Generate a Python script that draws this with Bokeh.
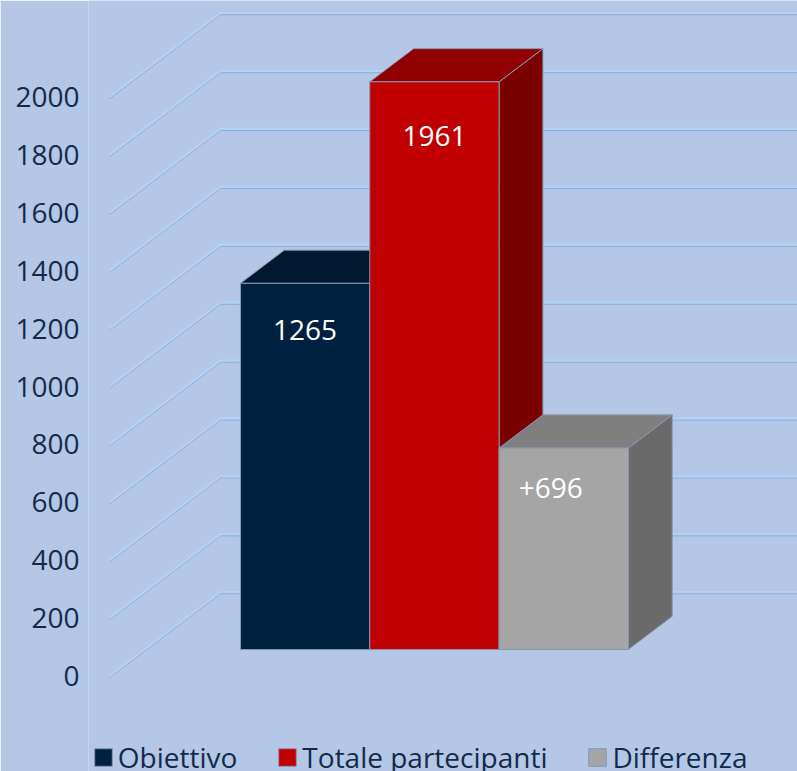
from bokeh.plotting import figure
from bokeh.models import Range1d, FixedTicker, Legend, LegendItem, ColumnDataSource
from bokeh.core.properties import value
from bokeh.embed import file_html
from bokeh.resources import INLINE

# ---------------- data ----------------
categories = ["Obiettivo", "Totale partecipanti", "Differenza"]
values = [1265, 1961, 696]
bar_labels = ["1265", "1961", "+696"]
tick_values = [0, 200, 400, 600, 800, 1000, 1200, 1400, 1600, 1800, 2000]

# ---------------- style ----------------
front_colors = ["#00203f", "#c00000", "#a5a5a5"]
top_colors = ["#001830", "#900000", "#7f7f7f"]
side_colors = ["#001530", "#7a0000", "#6a6a6a"]
label_dy_px = [47, 54, 40]
label_dx_px = [0, 0, -13]
BG = "#b4c7e7"
TXT = "#132b4b"
FONT = "Open Sans"

# projection (pixels per data unit)
PXX = 129.3      # px per category unit
PXY = 0.2895     # px per value unit
DX = 111 / PXX   # depth vector (x), data units per unit depth
DY = 84 / PXY    # depth vector (y), data units per unit depth
D0, D1 = 0.315, 0.71   # bar front/back depth
WALL_X = -0.7425       # left wall x at depth 0

W, H = 797, 771
LEFT = 88
p = figure(width=W, height=H, output_backend="svg", toolbar_location=None,
           x_axis_location=None,
           x_range=Range1d((LEFT - 205) / PXX, (W - 205) / PXX),
           y_range=Range1d((675.5 - H) / PXY, 675.5 / PXY),
           min_border_left=LEFT, min_border_right=0, min_border_top=0, min_border_bottom=0)
p.background_fill_color = BG
p.border_fill_color = BG
p.outline_line_color = None
p.xgrid.visible = False
p.ygrid.visible = False

ax = p.yaxis[0]
ax.ticker = FixedTicker(ticks=tick_values)
ax.axis_line_color = None
ax.major_tick_line_color = None
ax.minor_tick_line_color = None
ax.major_tick_out = 0
ax.major_tick_in = 0
ax.major_label_standoff = 9
ax.major_label_text_font = FONT
ax.major_label_text_font_size = "28px"
ax.major_label_text_color = TXT

# ---------------- gridlines (side wall + back wall) ----------------
x_end = 4.6
for t in tick_values:
    xs = [WALL_X, WALL_X + DX, x_end]
    ys = [t, t + DY, t + DY]
    p.line(xs, [y - 1.8 / PXY for y in ys], line_color="#92abd4", line_width=1)
    p.line(xs, ys, line_color="#b0d3fa", line_width=2)

# ---------------- bars ----------------
edge = "#8797b3"
front_renderers = []
for i, v in enumerate(values):
    xl = i + D0 * DX
    xr = i + 1 + D0 * DX
    yb = D0 * DY
    yt = v + D0 * DY
    ddx = (D1 - D0) * DX
    ddy = (D1 - D0) * DY
    # side face
    p.patch([xr, xr + ddx, xr + ddx, xr],
            [yb, yb + ddy, yt + ddy, yt],
            fill_color=side_colors[i], line_color=edge, line_width=1)
    # top face
    p.patch([xl, xr, xr + ddx, xl + ddx],
            [yt, yt, yt + ddy, yt + ddy],
            fill_color=top_colors[i], line_color=edge, line_width=1)
    # front face
    r = p.quad(left=xl, right=xr, bottom=yb, top=yt,
               fill_color=front_colors[i], line_color=edge, line_width=1)
    front_renderers.append(r)

# ---------------- data labels ----------------
lab_src = ColumnDataSource(dict(
    x=[i + 0.5 + D0 * DX + label_dx_px[i] / PXX for i in range(len(values))],
    y=[values[i] + D0 * DY - label_dy_px[i] / PXY for i in range(len(values))],
    t=bar_labels))
p.text(x="x", y="y", text="t", source=lab_src, text_color="white",
       text_font=value(FONT), text_font_size="28px",
       text_align="center", text_baseline="middle")

# ---------------- legend ----------------
legend = Legend(items=[LegendItem(label=c, renderers=[r]) for c, r in zip(categories, front_renderers)],
                orientation="horizontal", location=(94 - LEFT - 2.2, -5),
                glyph_width=22, glyph_height=22, label_standoff=4, spacing=39,
                padding=0, margin=0, border_line_color=None, background_fill_alpha=0,
                label_text_font=FONT, label_text_font_size="28px", label_text_color=TXT)
p.add_layout(legend)

html = file_html(p, INLINE)
html = html.replace("<body>", '<body style="background-color:%s;">' % BG, 1)
open("out.html", "w").write(html)
